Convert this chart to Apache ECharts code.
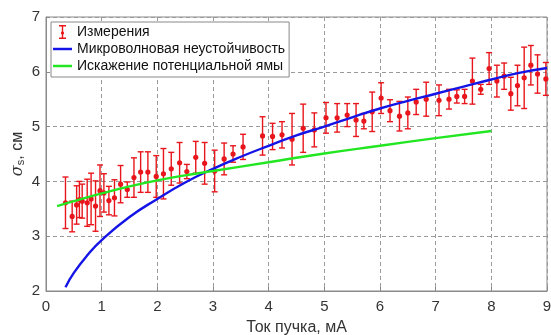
<!DOCTYPE html>
<html>
<head>
<meta charset="utf-8">
<script src="https://cdn.jsdelivr.net/npm/echarts@6/dist/echarts.min.js"></script>
<style>html,body{margin:0;padding:0;background:#fff}#c{width:551px;height:335px}</style>
</head>
<body>
<div id="c"></div>
<script>
// Measurements: beam current (mA), sigma_s (cm), error half-width (cm)
const measX = [0.35,0.47,0.55,0.60,0.65,0.74,0.81,0.89,0.97,1.04,1.13,1.23,1.34,1.46,1.58,1.70,1.83,1.98,2.11,2.25,2.40,2.53,2.69,2.85,3.03,3.20,3.36,3.54,3.89,4.07,4.24,4.42,4.62,4.82,5.03,5.23,5.41,5.57,5.71,5.86,6.02,6.18,6.35,6.50,6.65,6.83,7.06,7.24,7.38,7.52,7.66,7.81,7.96,8.10,8.23,8.35,8.47,8.59,8.71,8.83,8.98];
const measY = [3.61,3.36,3.57,3.67,3.64,3.61,3.68,3.55,3.83,3.79,3.65,3.70,3.95,3.85,4.07,4.17,4.17,4.09,4.14,4.23,4.34,4.18,4.44,4.33,4.19,4.41,4.50,4.63,4.83,4.82,4.85,4.77,4.97,4.94,5.16,5.16,5.21,5.12,5.10,5.27,5.52,5.29,5.19,5.25,5.45,5.50,5.48,5.50,5.55,5.55,5.83,5.68,6.06,5.83,5.92,5.60,5.75,5.89,6.12,5.96,5.87];
const measErr = [0.47,0.28,0.35,0.33,0.31,0.43,0.47,0.46,0.47,0.35,0.26,0.33,0.34,0.14,0.36,0.37,0.37,0.38,0.46,0.30,0.37,0.13,0.29,0.38,0.38,0.29,0.15,0.23,0.35,0.24,0.24,0.47,0.44,0.31,0.28,0.26,0.21,0.30,0.14,0.36,0.28,0.20,0.27,0.29,0.23,0.31,0.28,0.18,0.12,0.13,0.42,0.09,0.29,0.29,0.24,0.30,0.37,0.56,0.36,0.35,0.30];

// Microwave instability curve
const mwX = [0.35,0.5,0.75,1,1.5,2,2.5,3,3.5,4,4.5,5,5.5,6,6.5,7,7.5,8,8.5,9];
const mwY = [2.07,2.33,2.66,2.93,3.35,3.68,3.98,4.23,4.45,4.65,4.84,5.00,5.17,5.33,5.47,5.60,5.73,5.86,5.98,6.07];

// Potential-well distortion curve
const pwX = [0.2,0.5,1,1.5,2,2.5,3,4,5,6,7,8];
const pwY = [3.55,3.64,3.78,3.91,4.02,4.11,4.19,4.35,4.51,4.65,4.79,4.92];

const names = ['Измерения','Микроволновая неустойчивость','Искажение потенциальной ямы'];
const xTicks = [0,1,2,3,4,5,6,7,8,9];
const yTicks = [2,3,4,5,6,7];

const RED = '#e8161c', BLUE = '#1414e6', GREEN = '#22e622';

const measData = measX.map((x,i)=>[x, measY[i], measErr[i]]);
const mwData = mwX.map((x,i)=>[x, mwY[i]]);
const pwData = pwX.map((x,i)=>[x, pwY[i]]);

const chart = echarts.init(document.getElementById('c'), null, {renderer:'canvas'});
const FONT = 'Liberation Sans, Arial, sans-serif';
const LINE_ICON = 'path://M0,0h20v2.6h-20z';
chart.setOption({
  animation: false,
  grid: {left:46, right:4, top:17, bottom:44, show:true, borderColor:'#8a8a8a', borderWidth:1,
         backgroundColor:'transparent', containLabel:false, outerBoundsMode:'none'},
  legend: {
    orient:'vertical', left:51, top:22,
    padding:[3,4,4,2], itemGap:3,
    itemWidth:19, itemHeight:14,
    backgroundColor:'#fff', borderColor:'#888', borderWidth:1, borderRadius:0,
    textStyle:{fontFamily:FONT, fontSize:14, color:'#111'},
    data:[
      {name:names[0], icon:'path://M0,0h7v1.4h-2.8v5.1a1.6,1.6 0 1 1 -1.4,0v0v-5.1h-2.8z M2.8,8.4h1.4v4.2h2.8v1.4h-7v-1.4h2.8z'},
      {name:names[1], icon:LINE_ICON},
      {name:names[2], icon:LINE_ICON}
    ]
  },
  xAxis: {
    type:'value', min:xTicks[0], max:xTicks[xTicks.length-1], interval:1,
    name:'Ток пучка, мА', nameLocation:'middle', nameGap:29, nameMoveOverlap:false,
    nameTextStyle:{fontFamily:FONT, fontSize:16, color:'#333'},
    axisLine:{show:true, lineStyle:{color:'#8a8a8a'}},
    axisTick:{show:true, inside:true, length:4, lineStyle:{color:'#8a8a8a'}},
    axisLabel:{fontFamily:FONT, fontSize:15, color:'#333', margin:8},
    splitLine:{show:true, lineStyle:{color:'#9a9a9a', type:[4,3], width:1}}
  },
  yAxis: {
    type:'value', min:yTicks[0], max:yTicks[yTicks.length-1], interval:1,
    name:'{i|σ}{s|s}, см', nameLocation:'middle', nameGap:20, nameMoveOverlap:false,
    nameTextStyle:{fontFamily:FONT, fontSize:16, color:'#333',
      rich:{i:{fontFamily:'DejaVu Serif, serif', fontStyle:'italic', fontSize:16, color:'#333'},
            s:{fontFamily:FONT, fontSize:11, color:'#333', verticalAlign:'bottom', padding:[6,0,0,0]}}},
    axisLine:{show:true, lineStyle:{color:'#8a8a8a'}},
    axisTick:{show:true, inside:true, length:4, lineStyle:{color:'#8a8a8a'}},
    axisLabel:{fontFamily:FONT, fontSize:15, color:'#333', margin:6},
    splitLine:{show:true, lineStyle:{color:'#9a9a9a', type:[4,3], width:1}}
  },
  series: [
    {
      name:names[0], type:'custom', data:measData,
      encode:{x:0, y:1},
      itemStyle:{color:RED},
      renderItem:function(params, api){
        const x = api.value(0), y = api.value(1), e = api.value(2);
        const t = api.coord([x, y+e]), b = api.coord([x, y-e]), c = api.coord([x, y]);
        const hw = 3, st = {stroke:RED, lineWidth:1.4};
        return {type:'group', children:[
          {type:'line', shape:{x1:t[0], y1:t[1], x2:b[0], y2:b[1]}, style:st},
          {type:'line', shape:{x1:t[0]-hw, y1:t[1], x2:t[0]+hw, y2:t[1]}, style:st},
          {type:'line', shape:{x1:b[0]-hw, y1:b[1], x2:b[0]+hw, y2:b[1]}, style:st},
          {type:'circle', shape:{cx:c[0], cy:c[1], r:2.6}, style:{fill:RED}}
        ]};
      }
    },
    {
      name:names[1], type:'line', data:mwData, smooth:true, symbol:'none',
      lineStyle:{color:BLUE, width:2.4}, itemStyle:{color:BLUE}
    },
    {
      name:names[2], type:'line', data:pwData, smooth:true, symbol:'none',
      lineStyle:{color:GREEN, width:2.4}, itemStyle:{color:GREEN}
    }
  ]
});
</script>
</body>
</html>
